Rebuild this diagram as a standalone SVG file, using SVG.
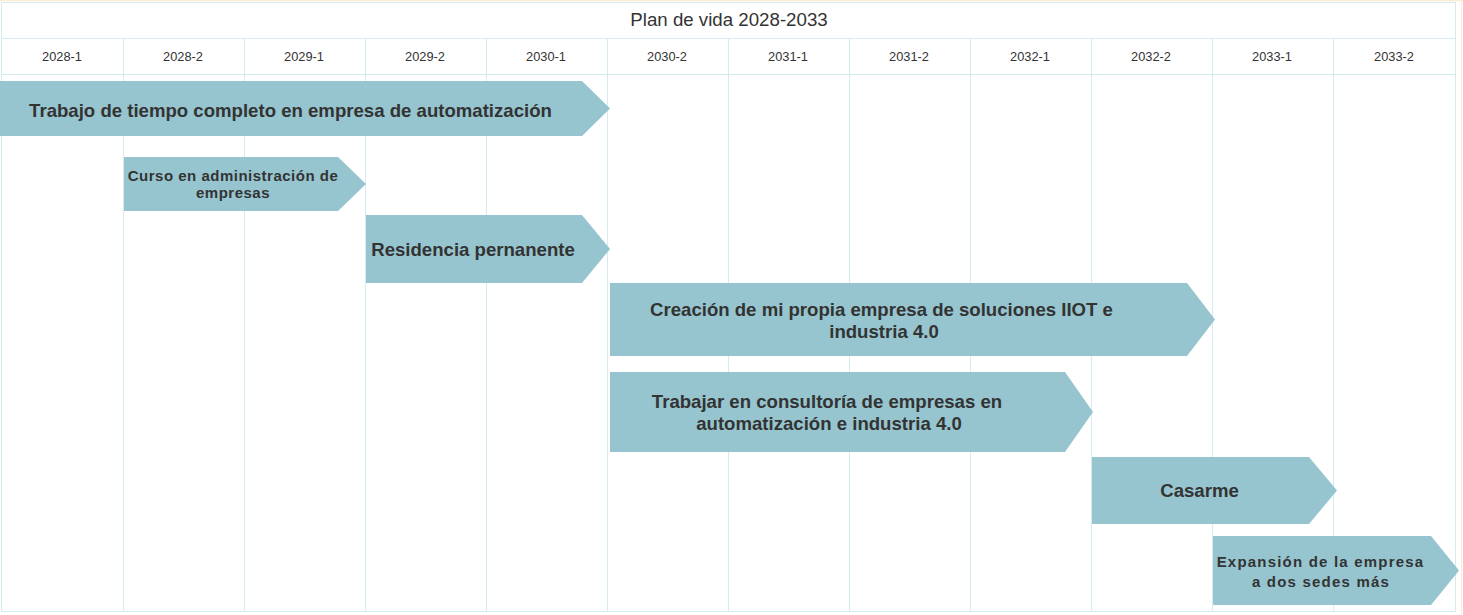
<svg xmlns="http://www.w3.org/2000/svg" width="1463" height="615" viewBox="0 0 1463 615">
<style>
.grid{stroke:#d5ebef;stroke-width:1;fill:none}
.bar{fill:#96c5cf}
.hd{font-family:"Liberation Sans",Arial,sans-serif;font-size:12.8px;fill:#333;text-anchor:middle}
.t{font-family:"Liberation Sans",Arial,sans-serif;font-weight:bold;fill:#333;text-anchor:middle;font-size:18.6px}
.s{font-family:"Liberation Sans",Arial,sans-serif;font-weight:bold;fill:#333;text-anchor:middle;font-size:15px}
</style>
<rect width="1463" height="615" fill="#fff"/>
<line x1="0" y1="0.5" x2="1463" y2="0.5" stroke="#fbebd6" stroke-width="1.5"/>
<line x1="1461.5" y1="0" x2="1461.5" y2="615" stroke="#fbebd6" stroke-width="1"/>
<g id="grid" class="grid">
<rect x="1.5" y="2.5" width="1454" height="609"/>
<line x1="1.5" y1="38.5" x2="1455.5" y2="38.5"/>
<line x1="1.5" y1="74.5" x2="1455.5" y2="74.5"/>
<path d="M123.5 38V611M244.5 38V611M365.5 38V611M486.5 38V611M607.5 38V611M728.5 38V611M849.5 38V611M970.5 38V611M1091.5 38V611M1212.5 38V611M1333.5 38V611"/>
</g>
<g id="header">
<text x="729" y="26" font-family="'Liberation Sans',Arial,sans-serif" font-size="18.7" fill="#333" text-anchor="middle">Plan de vida 2028-2033</text>
<text class="hd" x="62" y="61">2028-1</text>
<text class="hd" x="183" y="61">2028-2</text>
<text class="hd" x="304" y="61">2029-1</text>
<text class="hd" x="425" y="61">2029-2</text>
<text class="hd" x="546" y="61">2030-1</text>
<text class="hd" x="667" y="61">2030-2</text>
<text class="hd" x="788" y="61">2031-1</text>
<text class="hd" x="909" y="61">2031-2</text>
<text class="hd" x="1030" y="61">2032-1</text>
<text class="hd" x="1151" y="61">2032-2</text>
<text class="hd" x="1272" y="61">2033-1</text>
<text class="hd" x="1394" y="61">2033-2</text>
</g>
<g id="bar1">
<polygon class="bar" points="0,81 582,81 610,108.5 582,136 0,136"/>
<text class="t" x="290.5" y="116.5">Trabajo de tiempo completo en empresa de automatización</text>
</g>
<g id="bar2">
<polygon class="bar" points="124,157 338,157 366,184 338,211 124,211"/>
<text class="s" x="233" y="180.5" letter-spacing="0.5">Curso en administración de</text>
<text class="s" x="233" y="198" letter-spacing="0.5">empresas</text>
</g>
<g id="bar3">
<polygon class="bar" points="366,215 582,215 610,249 582,283 366,283"/>
<text class="t" x="473" y="255.5">Residencia pernanente</text>
</g>
<g id="bar4">
<polygon class="bar" points="610,283 1187,283 1215,319.5 1187,356 610,356"/>
<text class="t" x="881.5" y="315.5">Creación de mi propia empresa de soluciones IIOT e</text>
<text class="t" x="884" y="337.5">industria 4.0</text>
</g>
<g id="bar5">
<polygon class="bar" points="610,372 1065,372 1093,412 1065,452 610,452"/>
<text class="t" x="827" y="407.5">Trabajar en consultoría de empresas en</text>
<text class="t" x="829" y="429.5">automatización e industria 4.0</text>
</g>
<g id="bar6">
<polygon class="bar" points="1092,457 1309,457 1337,490.5 1309,524 1092,524"/>
<text class="t" x="1199.5" y="497">Casarme</text>
</g>
<g id="bar7">
<polygon class="bar" points="1213,536 1431,536 1459,570.5 1431,605 1213,605"/>
<text class="s" x="1320.5" y="567" letter-spacing="1.2">Expansión de la empresa</text>
<text class="s" x="1321" y="587" letter-spacing="1.2">a dos sedes más</text>
</g>
<g id="connectors"/>
</svg>
